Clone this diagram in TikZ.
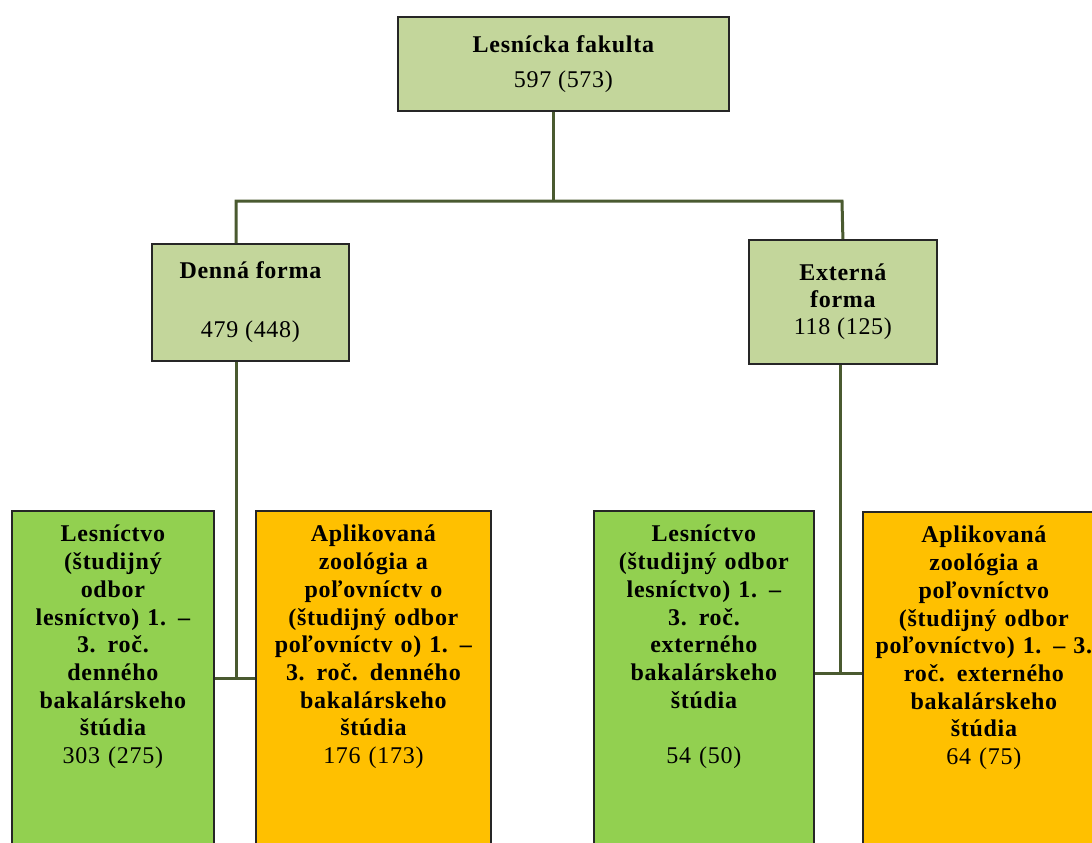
\documentclass[tikz,border=0pt]{standalone}
\usepackage{fontspec}
\setmainfont{Liberation Serif}[LetterSpace=3.0]
\usetikzlibrary{positioning}
\definecolor{formgreen}{HTML}{C3D69B}
\definecolor{proggreen}{HTML}{92D050}
\definecolor{progorange}{HTML}{FFC000}
\definecolor{linkcol}{HTML}{4A5A30}

\begin{document}
\begin{tikzpicture}[x=1pt, y=-1pt,
    form-box/.style={draw=black!85, line width=1.8pt, fill=formgreen,
      align=center, inner sep=0pt, anchor=north west,
      font=\fontsize{24}{27}\selectfont},
    prog-box/.style={draw=black!85, line width=1.8pt, align=center,
      inner sep=0pt, anchor=north west, text height=31pt, text depth=340pt,
      font=\bfseries\fontsize{24}{27.7}\selectfont},
    link/.style={draw=linkcol, line width=3pt}]
  \useasboundingbox (0,0) rectangle (1092,843);
  \clip (0,0) rectangle (1092,843);
  \fill[white] (0,0) rectangle (1092,843);

  % faculty and study forms
  \node[form-box, minimum width=331pt, minimum height=94pt] (fak) at (397,16)
    {{\bfseries Lesnícka fakulta}\\[8pt]597 (573)};
  \node[form-box, minimum width=197pt, minimum height=117pt] (denna) at (151,243)
    {{\bfseries Denná forma}\\[32pt]479 (448)};
  \node[form-box, minimum width=188pt, minimum height=124pt] (externa) at (748,239)
    {{\bfseries Externá}\\{\bfseries forma}\\118 (125)};

  % study programmes
  \node[prog-box, fill=proggreen, minimum width=202pt, text width=194pt]
    (les-denna) at (11,510)
    {Lesníctvo\\(študijný\\odbor\\lesníctvo) 1. –\\3. roč.\\denného\\bakalárskeho\\štúdia\\{\mdseries 303 (275)}};
  \node[prog-box, fill=progorange, minimum width=235pt, text width=227pt]
    (apl-denna) at (255,510)
    {Aplikovaná\\zoológia a\\poľovníctv o\\(študijný odbor\\poľovníctv o) 1. –\\3. roč. denného\\bakalárskeho\\štúdia\\{\mdseries 176 (173)}};
  \node[prog-box, fill=proggreen, minimum width=220pt, text width=212pt]
    (les-ext) at (593,510)
    {Lesníctvo\\(študijný odbor\\lesníctvo) 1. –\\3. roč.\\externého\\bakalárskeho\\štúdia\\[27.7pt]{\mdseries 54 (50)}};
  \node[prog-box, fill=progorange, minimum width=242pt, text width=236pt]
    (apl-ext) at (862,511)
    {Aplikovaná\\zoológia a\\poľovníctvo\\(študijný odbor\\poľovníctvo) 1. – 3.\\roč. externého\\bakalárskeho\\štúdia\\{\mdseries 64 (75)}};

  % connectors
  \coordinate (bus-l) at (236,201);
  \coordinate (bus-m) at (553,201);
  \coordinate (bus-r) at (842,201);
  \coordinate (hub-l) at (236,678);
  \coordinate (hub-r) at (840,673);

  \draw[link] (fak.south -| bus-m) -- (bus-m);
  \draw[link] (denna.north -| bus-l) -- (bus-l) -- (bus-r) -- (externa.north);
  \draw[link] (denna.south -| bus-l) -- (hub-l);
  \draw[link] (externa.south -| hub-r) -- (hub-r);
  \draw[link] (les-denna.east |- hub-l) -- (apl-denna.west |- hub-l);
  \draw[link] (les-ext.east |- hub-r) -- (apl-ext.west |- hub-r);
\end{tikzpicture}
\end{document}
